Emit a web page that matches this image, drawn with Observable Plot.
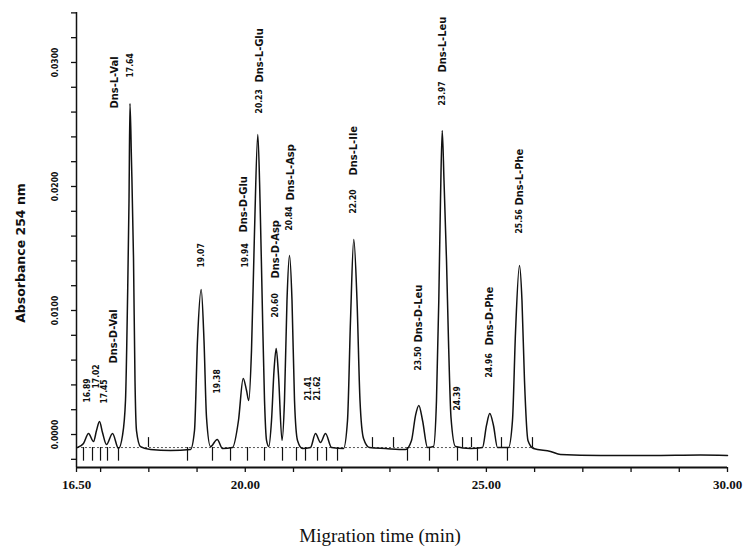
<!DOCTYPE html>
<html><head><meta charset="utf-8">
<script src="https://cdn.jsdelivr.net/npm/d3@7"></script>
<script src="https://cdn.jsdelivr.net/npm/@observablehq/plot@0.6"></script>
<style>body{margin:0;background:#fff}#chart svg{display:block}</style>
</head><body><div id="chart"></div>
<script>
// Electropherogram trace (migration time in min, absorbance at 254 nm)
const traceTime = [16.521,16.645,16.749,16.853,16.915,16.977,17.039,17.122,17.247,17.371,17.454,17.516,17.558,17.589,17.609,17.640,17.682,17.713,17.744,17.827,18.035,18.449,18.864,18.947,19.009,19.086,19.144,19.196,19.279,19.418,19.528,19.735,19.859,19.957,20.026,20.073,20.129,20.192,20.260,20.306,20.351,20.399,20.441,20.488,20.544,20.596,20.641,20.689,20.762,20.813,20.865,20.917,20.969,21.021,21.083,21.187,21.353,21.456,21.560,21.664,21.788,22.037,22.120,22.182,22.250,22.317,22.379,22.452,22.576,22.908,23.323,23.447,23.530,23.599,23.676,23.779,23.903,23.965,24.013,24.048,24.084,24.121,24.173,24.214,24.266,24.359,24.670,24.919,25.002,25.070,25.147,25.230,25.458,25.541,25.603,25.686,25.738,25.790,25.862,25.977,26.330,26.537,27.366,28.403,29.440,30.000];
const traceAbs = [-0.00105,-0.00073,0.00008,-0.00056,0.00032,0.00105,0.00016,-0.00081,0.00008,-0.00113,-0.00008,0.00274,0.01081,0.01887,0.02669,0.0221,0.01427,0.00435,0.00032,-0.00097,-0.00121,-0.00129,-0.00121,0.00032,0.00758,0.01169,0.00758,0.00137,-0.00097,-0.0004,-0.00113,-0.00105,0.00113,0.00452,0.00355,0.00274,0.00677,0.01645,0.0242,0.01887,0.01081,0.00274,-0.00048,-0.00097,0.00113,0.00516,0.00694,0.00476,-0.00048,0.00274,0.01081,0.01444,0.01081,0.00274,-0.00048,-0.00113,-0.00105,0.00008,-0.00065,0.00008,-0.00105,-0.00113,0.00113,0.00919,0.01573,0.01081,0.00274,-0.00032,-0.00105,-0.00113,-0.00121,-0.00048,0.00153,0.00234,0.00113,-0.00105,-0.00097,0.00274,0.01081,0.01887,0.02452,0.02048,0.01403,0.00758,0.00137,-0.00097,-0.00113,-0.00105,0.00073,0.00169,0.00073,-0.00105,-0.00105,0.00113,0.00815,0.01363,0.01081,0.00435,-0.00048,-0.00113,-0.00137,-0.00161,-0.00169,-0.00169,-0.00165,-0.00169];

// Peak time labels (printed numbers) with where they stand
const peakLabelText  = ["16.89","17.02","17.45","17.64","19.07","19.38","19.94","20.23","20.60","20.84","21.41","21.62","22.20","23.50","23.97","24.39","24.96","25.56"];
const peakLabelTime  = [16.728,16.915,17.081,17.620,19.092,19.424,20.005,20.295,20.627,20.917,21.300,21.500,22.244,23.592,24.090,24.401,25.065,25.687];
const peakLabelLevel = [0.00258,0.00371,0.0025,0.02879,0.01347,0.00331,0.01347,0.02589,0.00944,0.01645,0.00274,0.00274,0.01782,0.00516,0.02653,0.00194,0.0046,0.01621];

// Compound names
const nameText  = ["Dns-D-Val","Dns-L-Val","Dns-D-Glu","Dns-L-Glu","Dns-D-Asp","Dns-L-Asp","Dns-L-Ile","Dns-D-Leu","Dns-L-Leu","Dns-D-Phe","Dns-L-Phe"];
const nameTime  = [17.267,17.288,19.963,20.295,20.627,20.938,22.244,23.592,24.090,25.065,25.687];
const nameLevel = [0.00573,0.02629,0.01629,0.02839,0.01258,0.01887,0.02089,0.00742,0.02919,0.00718,0.01847];

// Integrator event marks
const markDownTimes = [16.645,16.832,16.998,17.143,17.371,18.802,19.320,19.694,20.046,20.399,20.772,21.062,21.249,21.498,21.685,21.913,23.364,23.820,24.401,24.815,25.437];
const markUpTimes = [17.993,22.638,23.074,24.505,24.691,25.313,25.956];
const baselineLevel = -0.00105;
const baselineSpan = [16.52, 26.0];

// Axes
const xDomain = [16.5, 30];
const yDomain = [-0.00266, 0.03403];
const xTickValues = [16.5,17,18,19,20,21,22,23,24,25,26,27,28,29,30];
const xLabelValues = [16.5,20,25,30];
const yTickValues = [-0.002,0,0.002,0.004,0.006,0.008,0.010,0.012,0.014,0.016,0.018,0.020,0.022,0.024,0.026,0.028,0.030,0.032,0.034];
const yLabelValues = [0,0.01,0.02,0.03];
const xTitle = "Migration time (min)";
const yTitle = "Absorbance 254 nm";

const trace = traceTime.map((t, i) => ({t, a: traceAbs[i]}));
const peakLabels = peakLabelText.map((s, i) => ({s, t: peakLabelTime[i], a: peakLabelLevel[i]}));
const names = nameText.map((s, i) => ({s, t: nameTime[i], a: nameLevel[i]}));

const labelFont = "'DejaVu Sans Condensed','Liberation Sans Narrow','DejaVu Sans',sans-serif";
const boldFont = "'DejaVu Sans',sans-serif";
const serif = "'Liberation Serif','DejaVu Serif',serif";

const chart = Plot.plot({
  width: 748, height: 556,
  marginLeft: 76, marginRight: 21, marginTop: 12, marginBottom: 89,
  style: {background: "#fff", color: "#111"},
  x: {domain: xDomain},
  y: {domain: yDomain},
  marks: [
    Plot.ruleX([xDomain[0]], {y1: yDomain[0], y2: yDomain[1], stroke: "#111", strokeWidth: 1.5}),
    Plot.axisY(yTickValues, {anchor: "left", tickSize: 5, tickFormat: () => "", label: null, stroke: "#111", strokeWidth: 1.3}),
    Plot.text(yLabelValues, {x: xDomain[0], y: d => d, text: d => d.toFixed(4), rotate: -90, dx: -21, fontSize: 8.5, fontWeight: "bold", fontFamily: labelFont, fill: "#111"}),
    Plot.text([yTitle], {frameAnchor: "left", textAnchor: "middle", rotate: -90, dx: -56, dy: 13, fontSize: 12.5, fontWeight: "bold", fontFamily: boldFont, fill: "#111"}),
    Plot.ruleY([yDomain[0]], {stroke: "#111", strokeWidth: 1.8}),
    Plot.axisX(xTickValues, {anchor: "bottom", tickSize: 5, tickPadding: 7, tickFormat: d => xLabelValues.includes(d) ? d.toFixed(2) : "", label: null, fontSize: 13, fontWeight: "bold", fontFamily: serif, stroke: "#111", strokeWidth: 1.3}),
    Plot.text([xTitle], {frameAnchor: "bottom", textAnchor: "middle", dy: 74, dx: -22, fontSize: 19, fontFamily: serif, fill: "#111"}),
    Plot.ruleY([baselineLevel], {x1: baselineSpan[0], x2: baselineSpan[1], stroke: "#444", strokeWidth: 0.9, strokeDasharray: "2,2"}),
    Plot.ruleX(markDownTimes, {y1: baselineLevel, y2: baselineLevel - 0.0011, stroke: "#111", strokeWidth: 1.2}),
    Plot.ruleX(markUpTimes, {y1: baselineLevel, y2: baselineLevel + 0.0008, stroke: "#111", strokeWidth: 1.2}),
    Plot.line(trace, {x: "t", y: "a", curve: "monotone-x", stroke: "#111", strokeWidth: 1.5}),
    Plot.text(peakLabels, {x: "t", y: "a", text: "s", rotate: -90, textAnchor: "start", lineAnchor: "middle", fontSize: 8.5, fontWeight: "bold", fontFamily: labelFont, fill: "#111"}),
    Plot.text(names, {x: "t", y: "a", text: "s", rotate: -90, textAnchor: "start", lineAnchor: "middle", fontSize: 11, fontWeight: "bold", fontFamily: labelFont, fill: "#111"})
  ]
});
document.getElementById("chart").appendChild(chart);
</script>
</body></html>
